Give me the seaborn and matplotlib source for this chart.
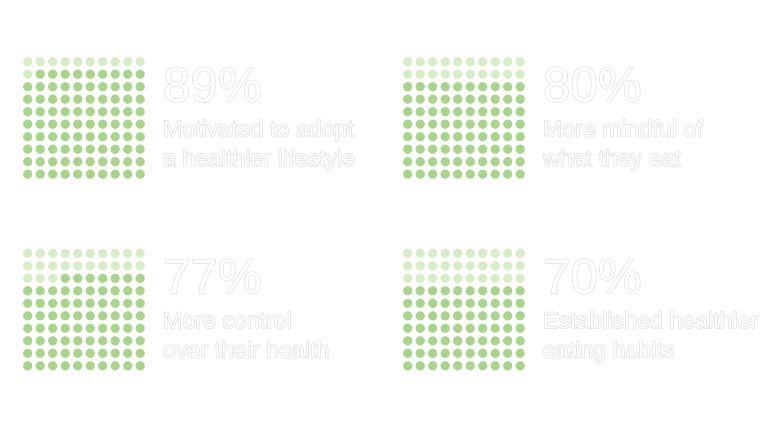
import numpy as np
import pandas as pd
import matplotlib
matplotlib.use("Agg")
import matplotlib.pyplot as plt
import matplotlib.patheffects as pe
import seaborn as sns

percents = [89, 80, 77, 70]
line1 = ["Motivated to adopt", "More mindful of", "More control", "Established healthier"]
line2 = ["a healthier lifestyle", "what they eat", "over their health", "eating habits"]

sns.set_theme(style="white")
plt.rcParams['font.family'] = ['Liberation Sans', 'DejaVu Sans']

W, H = 780, 428
fig = plt.figure(figsize=(W / 100, H / 100), dpi=100)
fig.patch.set_facecolor("white")

FILLED = "#a9d48b"
EMPTY = "#d6edc6"
pitch = 12.5
offsets = [(0, 0), (380, 0), (0, 191.6), (380, 191.6)]
x0, y0 = 27.7, 61.7  # first dot centre (px) of first grid

outline = [pe.Stroke(linewidth=0.8, foreground="#d8d8d8"), pe.Normal()]

for i, (pct, l1, l2) in enumerate(zip(percents, line1, line2)):
    dx, dy = offsets[i]
    # grid cells in reading order from top-left; first (100-pct) empty
    idx = np.arange(100)
    df = pd.DataFrame({
        "col": idx % 10,
        "row": idx // 10,
        "state": np.where(idx < 100 - pct, "empty", "filled"),
    })
    left = x0 + dx - pitch / 2
    top = y0 + dy - pitch / 2
    ax = fig.add_axes([left / W, 1 - (top + 10 * pitch) / H, 10 * pitch / W, 10 * pitch / H])
    sns.scatterplot(data=df, x="col", y="row", hue="state",
                    palette={"empty": EMPTY, "filled": FILLED},
                    s=44, linewidth=0, legend=False, ax=ax)
    ax.set_xlim(-0.5, 9.5)
    ax.set_ylim(9.5, -0.5)
    ax.axis("off")

    tx = 163 + dx
    fig.text(tx / W, 1 - (101.7 + dy) / H, f"{pct}%", fontsize=35.5, color="white",
             va="baseline", ha="left", path_effects=outline)
    fig.text(tx / W, 1 - (136.7 + dy) / H, l1, fontsize=16.7, color="white",
             va="baseline", ha="left", path_effects=outline)
    fig.text(tx / W, 1 - (166 + dy) / H, l2, fontsize=16.7, color="white",
             va="baseline", ha="left", path_effects=outline)

fig.savefig("out.png", dpi=100, facecolor="white")
